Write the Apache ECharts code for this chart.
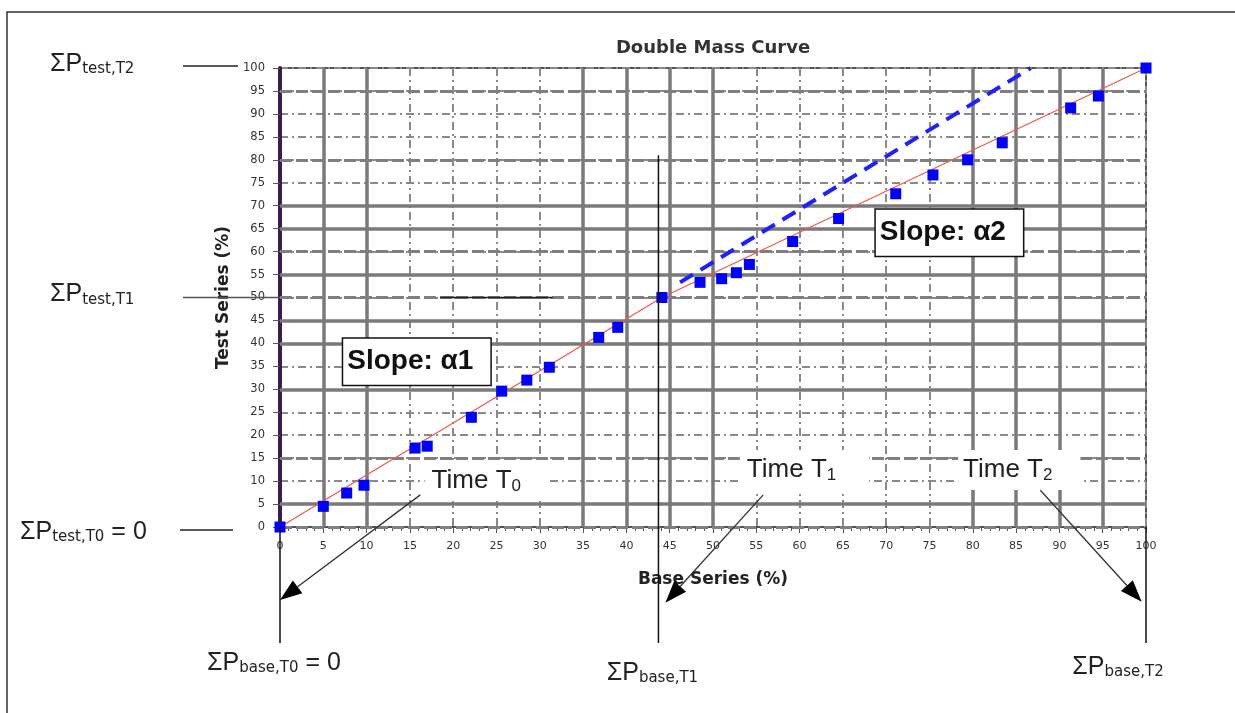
<!DOCTYPE html>
<html><head><meta charset="utf-8">
<script src="https://cdn.jsdelivr.net/npm/echarts@6/dist/echarts.min.js"></script>
<style>html,body{margin:0;padding:0;background:#fff}#c{width:1235px;height:713px}</style>
</head><body><div id="c"></div>
<script>
// ---- data ----
const baseSeries = [0, 5, 7.7, 9.7, 15.6, 17, 22.1, 25.6, 28.5, 31.1, 36.8, 39, 44.1, 48.5, 51, 52.7, 54.2, 59.2, 64.5, 71.1, 75.4, 79.4, 83.4, 91.3, 94.5, 100];
const testSeries = [0, 4.5, 7.4, 9.1, 17.2, 17.6, 23.9, 29.6, 32, 34.8, 41.3, 43.5, 50, 53.3, 54.1, 55.4, 57.2, 62.2, 67.2, 72.6, 76.7, 80, 83.7, 91.3, 93.9, 100];
const fitBase = [0, 44.1, 100];
const fitTest = [0, 50, 100];
const trendBase = [46.2, 86.7];
const trendTest = [53.3, 100];
const solidGridX = [5, 10, 35, 40, 45, 50, 80, 85, 90, 95];
const solidGridY = [5, 30, 40, 45, 55, 65, 70];
const heavyDashY = [0, 15, 50, 60, 80, 95];
const breakBase = 43.7;     // ΣP base,T1 reference
const timeLabels = ['0', '1', '2'];

const chart = echarts.init(document.getElementById('c'));
const axisFont = 'DejaVu Sans';
const option = {
  animation: false,
  backgroundColor: '#fff',
  grid: {left: 280, right: 89, top: 68, bottom: 186, show: true, borderColor: '#555', borderWidth: 2},
  xAxis: {
    type: 'value', min: 0, max: 100, interval: 5,
    name: 'Base Series (%)', nameLocation: 'middle', nameGap: 44,
    nameTextStyle: {fontFamily: axisFont, fontWeight: 'bold', fontSize: 17, color: '#222'},
    axisLine: {show: true, onZero: false, lineStyle: {color: '#5b476a', width: 2}},
    axisTick: {show: true, length: 6, lineStyle: {color: '#555'}},
    minorTick: {show: true, splitNumber: 5, length: 4, lineStyle: {color: '#555'}},
    axisLabel: {fontFamily: axisFont, fontSize: 11, color: '#333', margin: 14},
    splitLine: {show: true, lineStyle: {color: '#8a8a8a', width: 2, type: [8, 4, 2, 4]}}
  },
  yAxis: {
    type: 'value', min: 0, max: 100, interval: 5,
    name: 'Test Series (%)', nameLocation: 'middle', nameGap: 32,
    nameTextStyle: {fontFamily: axisFont, fontWeight: 'bold', fontSize: 17, color: '#222'},
    axisLine: {show: true, onZero: false, lineStyle: {color: '#3a1d4d', width: 4}},
    axisTick: {show: true, length: 7, lineStyle: {color: '#555'}},
    axisLabel: {fontFamily: axisFont, fontSize: 11.5, color: '#333', margin: 15},
    splitLine: {show: true, lineStyle: {color: '#8a8a8a', width: 2, type: [8, 4, 2, 4]}}
  },
  series: [
    {type: 'line', data: [], z: 1, silent: true,
     markLine: {z: 1, symbol: ['none', 'none'], silent: true, label: {show: false}, emphasis: {disabled: true},
       lineStyle: {color: '#7a7a7a', width: 3.5, type: 'solid'},
       data: solidGridX.map(v => ({xAxis: v})).concat(solidGridY.map(v => ({yAxis: v})))}},
    {type: 'line', data: [], z: 1, silent: true,
     markLine: {z: 1, symbol: ['none', 'none'], silent: true, label: {show: false}, emphasis: {disabled: true},
       lineStyle: {color: '#7f7f7f', width: 3, type: [12, 4]},
       data: heavyDashY.map(v => ({yAxis: v}))}},
    {type: 'line', z: 3, symbol: 'none', silent: true,
     data: fitBase.map((x, i) => [x, fitTest[i]]),
     lineStyle: {color: '#ee5a4a', width: 1.3}},
    {type: 'line', z: 3, symbol: 'none', silent: true,
     data: trendBase.map((x, i) => [x, trendTest[i]]),
     lineStyle: {color: '#1f1fff', width: 4, type: [15, 9]}},
    {type: 'scatter', z: 4, symbol: 'rect', symbolSize: 11, silent: true,
     data: baseSeries.map((x, i) => [x, testSeries[i]]),
     itemStyle: {color: '#0000ff', opacity: 1}}
  ]
};
chart.setOption(option);

const P = (x, y) => chart.convertToPixel({gridIndex: 0}, [x, y]);
const g = [];
const x0 = P(0, 0)[0], y0 = P(0, 0)[1];
const x100 = P(100, 0)[0], y100 = P(0, 100)[1];

// outer frame
g.push({type: 'polyline', shape: {points: [[7, 713], [7, 12], [1235, 12]]}, style: {stroke: '#333', lineWidth: 1.5, fill: 'none'}, z: 30});
// title
g.push({type: 'text', x: P(50, 0)[0], y: y100 - 20, z: 30,
  style: {text: 'Double Mass Curve', font: 'bold 18px "DejaVu Sans"', fill: '#333', align: 'center', verticalAlign: 'middle'}});

const richSig = {
  m: {fontSize: 25, fontFamily: 'Liberation Sans', fill: '#222', lineHeight: 26},
  s: {fontSize: 15, fontFamily: 'DejaVu Sans', fill: '#222', lineHeight: 12, verticalAlign: 'bottom'}
};
function sig(sub, suffix, x, y, align) {
  g.push({type: 'text', x: x, y: y, z: 30,
    style: {text: '{m|ΣP}{s|' + sub + '}' + (suffix ? '{m| ' + suffix + '}' : ''), rich: richSig, align: align, verticalAlign: 'middle'}});
}
function seg(a, b, color, w) {
  g.push({type: 'line', shape: {x1: a[0], y1: a[1], x2: b[0], y2: b[1]}, style: {stroke: color, lineWidth: w}, z: 30});
}
function arrow(from, to) {
  const dx = to[0] - from[0], dy = to[1] - from[1];
  const len = Math.hypot(dx, dy), ux = dx / len, uy = dy / len;
  const hl = 22, hw = 8;
  const bx = to[0] - ux * hl, by = to[1] - uy * hl;
  seg(from, [bx, by], '#333', 1.3);
  g.push({type: 'polygon', shape: {points: [to, [bx - uy * hw, by + ux * hw], [bx + uy * hw, by - ux * hw]]}, style: {fill: '#000'}, z: 31});
}

// test-axis references
seg([183, y100 - 2], [238, y100 - 2], '#222', 1.5);
sig('test,T2', '', 50, y100 - 4, 'left');
const y50 = P(0, 50)[1];
seg([183, y50], [x0, y50], '#555', 1.5);
seg(P(18.5, 50), P(31.5, 50), '#222', 1.5);
sig('test,T1', '', 50, y50 - 3, 'left');
seg([180, y0 + 3], [233, y0 + 3], '#222', 1.5);
sig('test,T0', '= 0', 20, y0 + 5, 'left');

// base-axis references
const yb = y0 + 116;
seg([x0, y0], [x0, yb], '#111', 1.5);
sig('base,T0', '= 0', x0 - 6, y0 + 136, 'center');
const xb1 = P(breakBase, 0)[0];
seg([xb1, P(0, 81)[1]], [xb1, yb], '#111', 1.5);
sig('base,T1', '', xb1 - 6, y0 + 146, 'center');
seg([x100, y0], [x100, yb], '#111', 1.5);
sig('base,T2', '', x100 - 28, y0 + 140, 'center');

// time labels
const richTime = {
  m: {fontSize: 26, fontFamily: 'Liberation Sans', fill: '#222', lineHeight: 28},
  s: {fontSize: 17, fontFamily: 'Liberation Sans', fill: '#222', lineHeight: 12, verticalAlign: 'bottom'}
};
const timePos = [[16.7, 10], [53.1, 12.4], [78.3, 12.4]];
const timePad = [[6, 29, 6, 7], [6, 33, 6, 7], [6, 28, 6, 5]];
timeLabels.forEach((t, i) => {
  const p = P(timePos[i][0], timePos[i][1]);
  g.push({type: 'text', x: p[0], y: p[1], z: 25,
    style: {text: '{m|Time T}{s|' + t + '}', rich: richTime, align: 'left', verticalAlign: 'middle', backgroundColor: '#fff', padding: timePad[i]}});
});
arrow(P(16.2, 7.0), P(0, -15.9));
arrow(P(55.8, 7.0), P(44.5, -16.5));
arrow(P(87.8, 8.0), P(99.5, -16.3));

// slope boxes
const slopePos = [[7.3, 36.0, '1'], [68.8, 64.1, '2']];
slopePos.forEach(s => {
  const p = P(s[0], s[1]);
  g.push({type: 'text', x: p[0], y: p[1], z: 26,
    style: {text: 'Slope: α' + s[2], font: 'bold 28px "Liberation Sans"', fill: '#111', align: 'left', verticalAlign: 'middle',
      backgroundColor: '#fff', borderColor: '#111', borderWidth: 1.5, padding: [8, 17, 8, 4], lineHeight: 30}});
});

chart.setOption({graphic: g});
</script></body></html>
